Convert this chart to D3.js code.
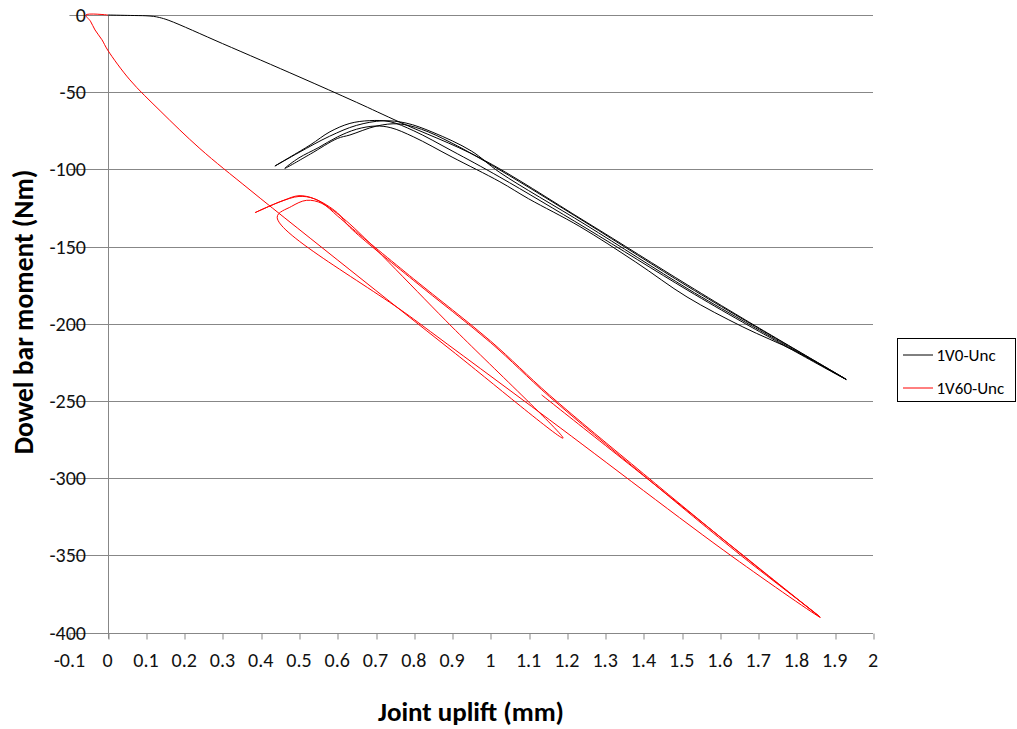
<!DOCTYPE html>
<html>
<head>
<meta charset="utf-8">
<script src="https://cdn.jsdelivr.net/npm/d3@7"></script>
<style>
  html, body { margin: 0; padding: 0; background: #fff; }
  svg { display: block; font-family: Carlito, "Open Sans", "Liberation Sans", sans-serif; }
</style>
</head>
<body>
<svg id="chart" width="1017" height="729"></svg>
<script>
// Joint uplift (mm) vs dowel bar moment (Nm) under cyclic loading, two specimens.
const xTicks = [-0.1, 0, 0.1, 0.2, 0.3, 0.4, 0.5, 0.6, 0.7, 0.8, 0.9, 1, 1.1, 1.2, 1.3, 1.4, 1.5, 1.6, 1.7, 1.8, 1.9, 2];
const yTicks = [0, -50, -100, -150, -200, -250, -300, -350, -400];
const seriesNames = ["1V0-Unc", "1V60-Unc"];
const seriesColors = ["#000000", "#ff0000"];

// 1V0-Unc: uplift (mm), in recorded order (load, then unload/reload cycles)
const v0X = [
  0, 0.06, 0.1, 0.12, 0.135, 0.16, 0.3, 0.5, 0.65, 0.764, 0.973, 1.25, 1.514, 1.66, 1.93,
  1.8, 1.66, 1.514, 1.38, 1.234, 1.1, 1.025, 0.9, 0.8, 0.74, 0.7, 0.65, 0.6, 0.55, 0.5, 0.463,
  0.53, 0.6, 0.633, 0.703, 0.76, 0.82, 0.9, 1.025, 1.25, 1.514, 1.66, 1.93,
  1.66, 1.514, 1.25, 1.025, 0.9, 0.8, 0.738, 0.685, 0.633, 0.581, 0.529, 0.437,
  0.5, 0.58, 0.65, 0.72, 0.78, 0.85, 0.95, 1.025, 1.25, 1.514, 1.66, 1.93
];
// 1V0-Unc: moment (Nm)
const v0Y = [
  0, -0.3, -0.5, -0.9, -1.6, -3.5, -18.5, -40, -56.5, -69.5, -92.6, -134, -174.6, -196.5, -236,
  -218, -202, -182.6, -160, -137, -119, -108, -92, -79, -73, -71.9, -74, -79, -86, -92.5, -99.3,
  -90, -80, -77.7, -71.9, -70.5, -74, -83, -100.4, -134.5, -175.5, -197, -236,
  -199, -178, -138, -105, -88, -75, -69.1, -68.4, -70.2, -75.6, -84.2, -97.8,
  -89, -78.5, -71.5, -68.5, -70, -76, -88, -102, -136, -177, -198, -236
];

// 1V60-Unc: uplift (mm)
const v60X = [
  0, -0.057, -0.045, -0.033, -0.015, 0, 0.058, 0.137, 0.241, 0.372, 0.633, 0.9, 1.19,
  0.9, 0.633, 0.58, 0.54, 0.5, 0.46, 0.385,
  0.45, 0.5, 0.54, 0.6, 0.633, 0.8, 1.0, 1.154, 1.4, 1.66, 1.862,
  1.634, 1.154, 0.8, 0.443,
  0.48, 0.52, 0.56, 0.6, 0.633, 0.8, 1.0, 1.154, 1.4, 1.66, 1.862,
  1.5, 1.134
];
// 1V60-Unc: moment (Nm)
const v60Y = [
  0, 0, -4, -9.7, -16, -22.7, -42, -62, -86.5, -113.3, -165, -217.5, -274,
  -202, -135.4, -125, -119, -117, -120, -128,
  -121, -117.5, -119, -128, -137.5, -172, -212, -247, -298, -351, -390,
  -351, -262, -197, -131,
  -124, -120, -122, -130, -137, -171, -211, -246, -297, -350, -390,
  -318, -246
];

const plot = { left: 69.4, right: 873, top: 15, bottom: 632.7 };

const svg = d3.select("#chart");
const x = d3.scaleLinear().domain([-0.1, 2]).range([plot.left, plot.right]);
const y = d3.scaleLinear().domain([0, -400]).range([plot.top, plot.bottom]);

const gridColor = "#878787";
const snap = v => Math.round(v) + 0.5;

// horizontal gridlines
svg.append("g")
  .selectAll("line")
  .data(yTicks.filter(d => d !== -400))
  .join("line")
  .attr("x1", plot.left).attr("x2", plot.right)
  .attr("y1", d => snap(y(d))).attr("y2", d => snap(y(d)))
  .attr("stroke", gridColor).attr("stroke-width", 1);

// vertical axis line crossing at x = 0
svg.append("line")
  .attr("x1", snap(x(0))).attr("x2", snap(x(0)))
  .attr("y1", plot.top).attr("y2", plot.bottom + 6)
  .attr("stroke", gridColor).attr("stroke-width", 1);

// horizontal axis at the bottom with downward ticks
const xAxis = d3.axisBottom(x).tickValues(xTicks).tickSize(6).tickFormat("");
const gx = svg.append("g")
  .attr("transform", `translate(0,${snap(y(-400))})`)
  .call(xAxis);
gx.select(".domain").attr("stroke", gridColor).attr("d", `M${plot.left},0H${plot.right}`);
gx.selectAll(".tick line").attr("stroke", gridColor)
  .attr("transform", d => `translate(${snap(x(d)) - x(d)},0)`);

// x tick labels
svg.append("g")
  .selectAll("text")
  .data(xTicks)
  .join("text")
  .attr("x", d => x(d))
  .attr("y", 667)
  .attr("text-anchor", "middle")
  .attr("font-size", 20)
  .attr("fill", "#111")
  .text(d => String(d));

// y tick labels
svg.append("g")
  .selectAll("text")
  .data(yTicks)
  .join("text")
  .attr("x", 86)
  .attr("y", d => y(d) + 7)
  .attr("text-anchor", "end")
  .attr("font-size", 20)
  .attr("fill", "#111")
  .text(d => String(d));

// series lines
const path = d3.line().x(d => x(d[0])).y(d => y(d[1])).curve(d3.curveCatmullRom.alpha(0.5));
const series = [d3.zip(v0X, v0Y), d3.zip(v60X, v60Y)];
series.forEach((pts, i) => {
  svg.append("path")
    .datum(pts)
    .attr("fill", "none")
    .attr("stroke", seriesColors[i])
    .attr("stroke-width", 1)
    .attr("stroke-linejoin", "round")
    .attr("d", path);
});

// axis titles
svg.append("text")
  .attr("x", 471).attr("y", 721)
  .attr("text-anchor", "middle")
  .attr("font-size", 27).attr("font-weight", "bold")
  .attr("fill", "#000")
  .text("Joint uplift (mm)");
svg.append("text")
  .attr("transform", "translate(33,312) rotate(-90)")
  .attr("text-anchor", "middle")
  .attr("font-size", 27.5).attr("font-weight", "bold")
  .attr("fill", "#000")
  .text("Dowel bar moment (Nm)");

// legend
const lg = svg.append("g").attr("transform", "translate(897.5,338.5)");
lg.append("rect").attr("width", 118).attr("height", 63)
  .attr("fill", "#fff").attr("stroke", "#000").attr("stroke-width", 1);
seriesNames.forEach((name, i) => {
  const cy = 16.5 + i * 33;
  lg.append("line").attr("x1", 5.5).attr("x2", 35.5).attr("y1", cy).attr("y2", cy)
    .attr("stroke", seriesColors[i]).attr("stroke-width", 1);
  lg.append("text").attr("x", 39).attr("y", cy + 6)
    .attr("font-size", 17).attr("fill", "#000").text(name);
});
</script>
</body>
</html>
